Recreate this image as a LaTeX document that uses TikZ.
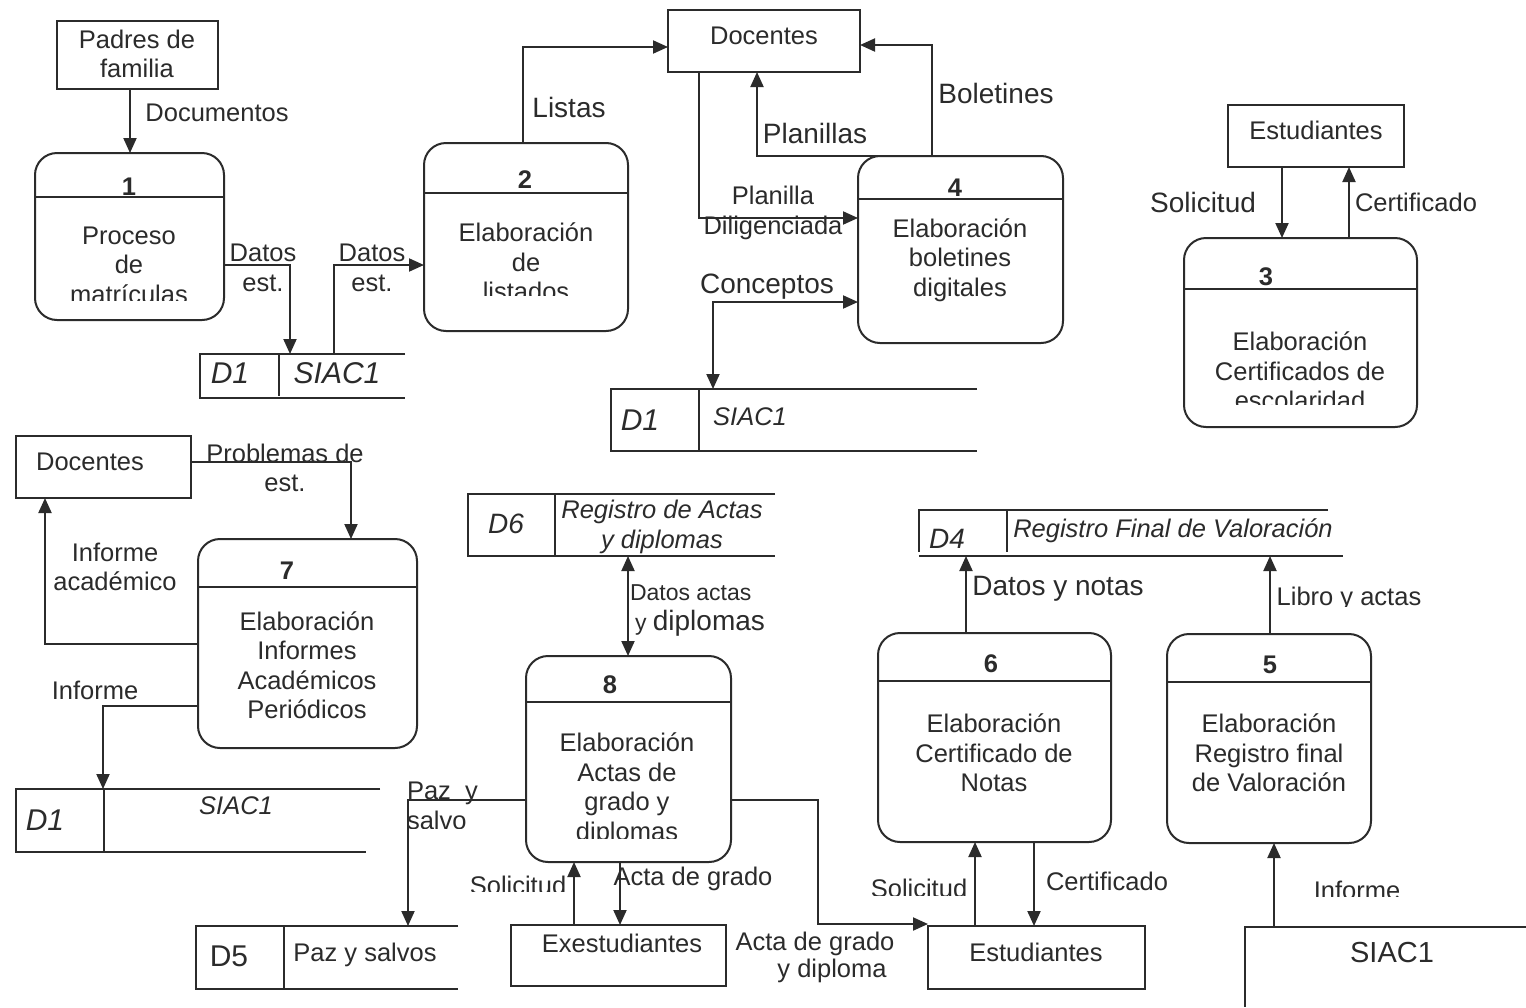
\documentclass[tikz,border=0pt]{standalone}
\usepackage{fontspec}
\setmainfont{Liberation Sans}
\usetikzlibrary{arrows.meta,fit}
\definecolor{ink}{HTML}{2B2B2B}
% type sizes
\newcommand\fs{\fontsize{25.5pt}{29.5pt}\selectfont}
\newcommand\fl{\fontsize{28pt}{31pt}\selectfont}
\newcommand\fsm{\fontsize{23pt}{27pt}\selectfont}
\newcommand\fd{\fontsize{30pt}{34pt}\selectfont}

\begin{document}
\begin{tikzpicture}[x=1pt,y=-1pt,line width=2pt,color=ink,
  proc/.style={draw,rounded corners=22pt,inner sep=0pt,outer sep=0pt},
  ent/.style={draw,inner sep=0pt,outer sep=0pt},
  area/.style={inner sep=0pt,outer sep=0pt},
  flow/.style={-{Triangle[length=15pt,width=13pt]}},
  both/.style={{Triangle[length=15pt,width=13pt]}-{Triangle[length=15pt,width=13pt]}},
  txt/.style={inner sep=0pt,align=center,font=\fs},
  big/.style={txt,font=\fl},
  small/.style={txt,font=\fsm},
  num/.style={txt,font=\fs\bfseries},
  stid/.style={txt,font=\fd\itshape},
  stname/.style={txt,font=\fs\itshape}]

\fill[white] (0,0) rectangle (1526,1007);
\useasboundingbox (0,0) rectangle (1526,1007);

% ---------- external entities ----------
\node[ent,fit={(57,21) (218,89)}] (padres) {};
\node[txt] (padrest) at (137,54) {Padres de\\familia};
\node[ent,fit={(668,10) (860,72)}] (docT) {};
\node[txt] (docTt) at (764,36) {Docentes};
\node[ent,fit={(1228,105) (1404,167)}] (estT) {};
\node[txt] (estTt) at (1316,130) {Estudiantes};
\node[ent,fit={(16,436) (191,498)}] (docL) {};
\node[txt] (docLt) at (90,462) {Docentes};
\node[ent,fit={(511,925) (726,986)}] (exest) {};
\node[txt] (exestt) at (622,943) {Exestudiantes};
\node[ent,fit={(928,926) (1145,989)}] (estB) {};
\node[txt] (estBt) at (1036,952) {Estudiantes};
\node[area,fit={(1245,927) (1526,1007)}] (siacB) {};
\draw (siacB.north east) -- (siacB.north west) -- (siacB.south west);
\node[txt,font=\fontsize{29pt}{32pt}\selectfont] (siacBt) at (1392,953) {SIAC1};

% ---------- processes ----------
\node[proc,fit={(35,153) (224,320)}] (p1) {};
\draw (p1.west |- 0,197) -- (p1.east |- 0,197);
\node[num] (p1n) at (129,187) {1};
\begin{scope}
  \clip (37,199) rectangle (222,300);
  \node[txt] (p1t) at (129,265) {Proceso\\de\\matrículas};
\end{scope}

\node[proc,fit={(424,143) (628,331)}] (p2) {};
\draw (p2.west |- 0,193) -- (p2.east |- 0,193);
\node[num] (p2n) at (525,180) {2};
\begin{scope}
  \clip (426,195) rectangle (626,295);
  \node[txt] (p2t) at (526,262) {Elaboración\\de\\listados};
\end{scope}

\node[proc,fit={(858,156) (1063,343)}] (p4) {};
\draw (p4.west |- 0,199) -- (p4.east |- 0,199);
\node[num] (p4n) at (955,188) {4};
\node[txt] (p4t) at (960,260) {Elaboración\\boletines\\digitales};

\node[proc,fit={(1184,238) (1417,427)}] (p3) {};
\draw (p3.west |- 0,289) -- (p3.east |- 0,289);
\node[num] (p3n) at (1266,277) {3};
\begin{scope}
  \clip (1186,291) rectangle (1415,404);
  \node[txt] (p3t) at (1300,371) {Elaboración\\Certificados de\\escolaridad};
\end{scope}

\node[proc,fit={(198,539) (417,748)}] (p7) {};
\draw (p7.west |- 0,587) -- (p7.east |- 0,587);
\node[num] (p7n) at (287,571) {7};
\node[txt] (p7t) at (307,665) {Elaboración\\Informes\\Académicos\\Periódicos};

\node[proc,fit={(526,656) (731,862)}] (p8) {};
\draw (p8.west |- 0,702) -- (p8.east |- 0,702);
\node[num] (p8n) at (610,685) {8};
\begin{scope}
  \clip (528,704) rectangle (729,838);
  \node[txt] (p8t) at (627,789) {Elaboración\\Actas de\\grado y\\diplomas};
\end{scope}

\node[proc,fit={(878,633) (1111,842)}] (p6) {};
\draw (p6.west |- 0,681) -- (p6.east |- 0,681);
\node[num] (p6n) at (991,664) {6};
\node[txt] (p6t) at (994,753) {Elaboración\\Certificado de\\Notas};

\node[proc,fit={(1167,634) (1371,843)}] (p5) {};
\draw (p5.west |- 0,682) -- (p5.east |- 0,682);
\node[num] (p5n) at (1270,665) {5};
\node[txt] (p5t) at (1269,753) {Elaboración\\Registro final\\de Valoración};

% ---------- data stores ----------
\node[area,fit={(200,354) (405,398)}] (s1) {};
\draw (s1.north east) -- (s1.north west) -- (s1.south west) -- (s1.south east);
\draw (279,354) -- (279,396);
\node[stid] (s1id) at (230,373) {D1};
\node[stid] (s1nm) at (337,373) {SIAC1};

\node[area,fit={(611,389) (977,451)}] (s2) {};
\draw (s2.north east) -- (s2.north west) -- (s2.south west) -- (s2.south east);
\draw (699,389) -- (699,451);
\node[stid] (s2id) at (640,420) {D1};
\node[stname] (s2nm) at (750,417) {SIAC1};

\node[area,fit={(16,789) (380,852)}] (s3) {};
\draw (s3.north east) -- (s3.north west) -- (s3.south west) -- (366,852);
\draw (104,789) -- (104,852);
\node[stid] (s3id) at (45,820) {D1};
\node[stname] (s3nm) at (236,806) {SIAC1};

\node[area,fit={(468,494) (775,556)}] (d6) {};
\draw (d6.north east) -- (d6.north west) -- (d6.south west) -- (d6.south east);
\draw (555,494) -- (555,556);
\node[stid,font=\fl\itshape] (d6id) at (506,524) {D6};
\node[stname] (d6nm) at (662,527) {Registro de Actas\\y diplomas};

\node[area,fit={(919,510) (1343,556)}] (d4) {};
\draw (1328,510) -- (d4.north west) -- (919,552);
\draw (d4.south west) -- (d4.south east);
\draw (1007,510) -- (1007,552);
\node[stid,font=\fl\itshape] (d4id) at (947,539) {D4};
\node[stname] (d4nm) at (1173,531) {Registro Final de Valoración};

\node[area,fit={(196,926) (458,989)}] (d5) {};
\draw (d5.north east) -- (d5.north west) -- (d5.south west) -- (d5.south east);
\draw (284,926) -- (284,989);
\node[txt,font=\fd] (d5id) at (229,956) {D5};
\node[txt] (d5nm) at (365,955) {Paz y salvos};

% ---------- data flows ----------
\draw[flow] (padres.south -| 130,0) -- (p1.north -| 130,0);
\node[txt] (l1) at (217,113) {Documentos};

\draw[flow] (p1.east |- 0,265) -| (s1.north -| 290,0);
\node[txt] (l2) at (263,268) {Datos\\est.};
\draw[flow] (s1.north -| 334,0) |- (p2.west |- 0,265);
\node[txt] (l3) at (372,268) {Datos\\est.};

\draw[flow] (p2.north -| 523,0) |- (docT.west |- 0,47);
\node[big] (l4) at (569,107) {Listas};
\draw[flow] (p4.north -| 885,0) -| (docT.south -| 757,0);
\node[big] (l5) at (815,133) {Planillas};
\draw[flow] (p4.north -| 932,0) |- (docT.east |- 0,45);
\node[big] (l6) at (996,93) {Boletines};
\draw[flow] (docT.south -| 699,0) |- (p4.west |- 0,218);
\node[txt] (l7) at (773,213) {Planilla\\Diligenciada};
\draw[both] (s2.north -| 713,0) |- (p4.west |- 0,302);
\node[big] (l8) at (767,287) {Conceptos};

\draw[flow] (estT.south -| 1282,0) -- (p3.north -| 1282,0);
\node[big] (l9) at (1203,202) {Solicitud};
\draw[flow] (p3.north -| 1349,0) -- (estT.south -| 1349,0);
\node[txt] (l10) at (1416,202) {Certificado};

\draw[flow] (docL.east |- 0,462) -| (p7.north -| 351,0);
\node[txt] (l11) at (285,468) {Problemas de\\est.};
\draw[flow] (p7.west |- 0,644) -| (docL.south -| 45,0);
\node[txt] (l12) at (115,567) {Informe\\académico};
\draw[flow] (p7.west |- 0,706) -| (s3.north -| 103,0);
\node[txt] (l13) at (95,690) {Informe};

\draw[both] (d6.south -| 628,0) -- (p8.north -| 628,0);
\node[small,anchor=west] (l14) at (629,593) {Datos actas};
\node[small,anchor=west] (l15) at (634,623) {y {\fl diplomas}};

\draw[flow] (p8.west |- 0,800) -| (d5.north -| 408,0);
\begin{scope}
  \clip (400,770) rectangle (520,828);
  \node[txt,align=left,anchor=west] (l16) at (406,806) {Paz\ \ y\\salvo};
\end{scope}
\draw[flow] (exest.north -| 574,0) -- (p8.south -| 574,0);
\begin{scope}
  \clip (450,860) rectangle (570,891.5);
  \node[txt] (l17) at (518,885) {Solicitud};
\end{scope}
\draw[flow] (p8.south -| 620,0) -- (exest.north -| 620,0);
\node[txt] (l18) at (693,879) {Acta de grado};
\coordinate (k1) at (818,924);
\draw[flow] (p8.east |- 0,800) -| (k1) -- (estB.west |- k1);
\node[txt] (l19) at (815,944) {Acta de grado};
\node[txt] (l20) at (832,971) {y diploma};

\draw[flow] (p6.north -| 966,0) -- (d4.south -| 966,0);
\node[big] (l21) at (1058,589) {Datos y notas};
\draw[flow] (p5.north -| 1270,0) -- (d4.south -| 1270,0);
\begin{scope}
  \clip (1272,570) rectangle (1440,606);
  \node[txt] (l22) at (1349,599) {Libro y actas};
\end{scope}

\draw[flow] (estB.north -| 975,0) -- (p6.south -| 975,0);
\begin{scope}
  \clip (860,860) rectangle (972,895);
  \node[txt] (l23) at (919,888) {Solicitud};
\end{scope}
\draw[flow] (p6.south -| 1034,0) -- (estB.north -| 1034,0);
\node[txt] (l24) at (1107,881) {Certificado};

\draw[flow] (siacB.north -| 1274,0) -- (p5.south -| 1274,0);
\begin{scope}
  \clip (1290,860) rectangle (1440,896);
  \node[txt] (l25) at (1357,890) {Informe};
\end{scope}
\end{tikzpicture}
\end{document}
